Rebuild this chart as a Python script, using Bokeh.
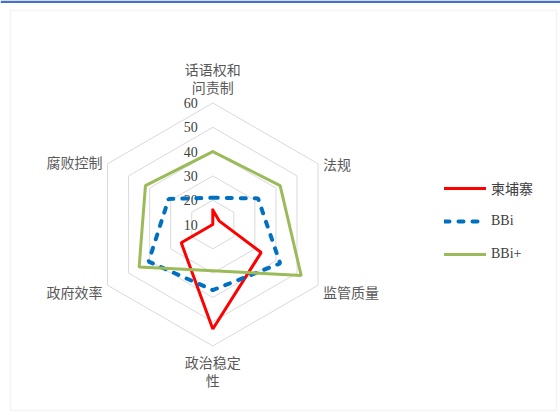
import numpy as np
from bokeh.plotting import figure
from bokeh.models import Legend, LegendItem, Range1d, BoxAnnotation
from bokeh.core.properties import value
from bokeh.embed import file_html
from bokeh.resources import INLINE

# ---------------- data ----------------
categories = ["话语权和\n问责制", "法规", "监管质量", "政治稳定\n性", "政府效率", "腐败控制"]
series_names = ["柬埔寨", "BBi", "BBi+"]
cambodia = [16, 13, 33, 53, 25, 10]
bbi = [21, 31.5, 42, 37, 40.5, 31]
bbi_plus = [40, 42, 52, 29, 45, 42]
ticks = [10, 20, 30, 40, 50, 60]
tick_labels = ["10", "20", "30", "40", "50", "60"]

# ---------------- geometry (pixels) ----------------
R = 121.5                       # radius of outer ring in px
CX, CY = 212.3, 224.0           # centre of the radar in page pixels
v_min, v_max = ticks[0], ticks[-1]
n = len(categories)
ang = np.pi / 2 - 2 * np.pi * np.arange(n) / n


def to_xy(vals):
    r = (np.asarray(vals, float) - v_min) / (v_max - v_min) * R
    return r * np.cos(ang), r * np.sin(ang)


def closed(a):
    return list(a) + [a[0]]


W, H = 560, 415
p = figure(width=W, height=H, output_backend="svg", toolbar_location=None,
           x_range=Range1d(-CX, W - CX), y_range=Range1d(CY - H, CY),
           min_border=0, min_border_left=0, min_border_right=0,
           min_border_top=0, min_border_bottom=0,
           x_axis_location=None, y_axis_location=None)
p.grid.visible = False
p.outline_line_color = None
p.background_fill_color = "white"
p.border_fill_color = "white"

# chart-area border and top accent bar (page decorations)
p.add_layout(BoxAnnotation(left=10 - CX, right=556 - CX, top=CY - 10, bottom=CY - 410,
                           fill_alpha=0, line_color="#D9D9D9", line_width=1.5))
p.add_layout(BoxAnnotation(left=-CX, right=W - CX, top=CY, bottom=CY - 2.5,
                           fill_color="#4472C4", fill_alpha=1, line_alpha=0))

# grid rings
ring_xs, ring_ys = [], []
for t in ticks[1:]:
    gx, gy = to_xy([t] * n)
    ring_xs.append(closed(gx))
    ring_ys.append(closed(gy))
p.multi_line(ring_xs, ring_ys, line_color="#D9D9D9", line_width=1)

# tick labels
tx = [0.0] * len(ticks)
ty = [(t - v_min) / (v_max - v_min) * R for t in ticks]
p.text(x=tx, y=ty, text=tick_labels, x_offset=-15, text_align="right", text_baseline="middle",
       text_font=value("Liberation Serif"), text_font_size="14px", text_color="#404040")

# category labels
cx, cy = to_xy([v_max] * n)
p.text(x=list(cx), y=list(cy), text=categories,
       x_offset=[0, 5, 5, 0, -5, -5], y_offset=[-6.4, 0, 6.6, 6, 6.6, -1.5],
       text_align=["center", "left", "left", "center", "right", "right"],
       text_baseline=["bottom", "middle", "middle", "top", "middle", "middle"],
       text_font=value("Noto Sans CJK SC"), text_font_size="14px", text_color="#595959",
       text_line_height=0.9)

# series
styles = [
    dict(line_color="#FF0000", line_width=3, line_cap="round"),
    dict(line_color="#0070C0", line_width=4, line_dash="5 9", line_cap="round"),
    dict(line_color="#9BBB59", line_width=3, line_cap="round"),
]
renderers = []
for vals, st in zip([cambodia, bbi, bbi_plus], styles):
    sx, sy = to_xy(vals)
    renderers.append(p.line(closed(sx), closed(sy), **st))

legend = Legend(items=[LegendItem(label=nm, renderers=[r]) for nm, r in zip(series_names, renderers)],
                location=(444, 151), orientation="vertical",
                glyph_width=42, glyph_height=20, label_height=20, spacing=13,
                padding=0, margin=0, label_standoff=5,
                border_line_color=None, background_fill_alpha=0,
                label_text_font="Liberation Serif, Noto Sans CJK SC",
                label_text_font_size="14px", label_text_color="#404040")
p.add_layout(legend)

open("out.html", "w").write(file_html(p, INLINE))
